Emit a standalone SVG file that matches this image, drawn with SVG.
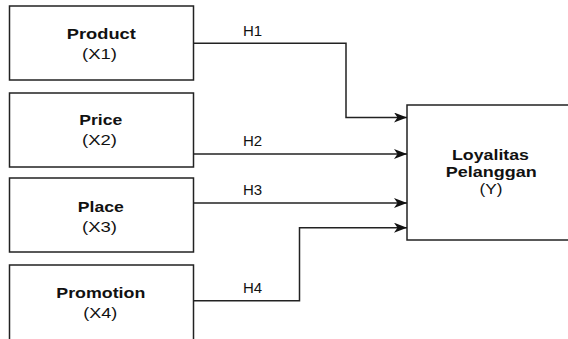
<svg xmlns="http://www.w3.org/2000/svg" width="568" height="339" viewBox="0 0 568 339">
<style>
.box{fill:#fff;stroke:#222;stroke-width:1.5}
.t{font-family:"Liberation Sans",Arial,sans-serif;font-size:15px;fill:#111;text-anchor:middle}
.b{font-weight:bold}
.h{font-family:"Liberation Sans",Arial,sans-serif;font-size:15px;fill:#111}
.c{fill:none;stroke:#222;stroke-width:1.5}
</style>
<defs>
<marker id="arr" viewBox="0 0 13 10" refX="13" refY="5" markerWidth="13" markerHeight="10" markerUnits="userSpaceOnUse" orient="auto">
<path d="M0,0 L13,5 L0,10 L3.5,5 Z" fill="#111"/>
</marker>
</defs>
<rect width="568" height="339" fill="#fff"/>
<g id="product">
<rect class="box" x="9.5" y="6" width="184" height="74"/>
<text class="t b" x="101.3" y="39" textLength="69" lengthAdjust="spacingAndGlyphs">Product</text>
<text class="t" x="99.5" y="59" textLength="35" lengthAdjust="spacingAndGlyphs">(X1)</text>
</g>
<g id="price">
<rect class="box" x="9.5" y="93" width="184" height="74"/>
<text class="t b" x="100.7" y="125" textLength="43" lengthAdjust="spacingAndGlyphs">Price</text>
<text class="t" x="99.5" y="145" textLength="35" lengthAdjust="spacingAndGlyphs">(X2)</text>
</g>
<g id="place">
<rect class="box" x="9.5" y="178" width="184" height="74"/>
<text class="t b" x="100.8" y="211.5" textLength="46" lengthAdjust="spacingAndGlyphs">Place</text>
<text class="t" x="99.5" y="231.5" textLength="35" lengthAdjust="spacingAndGlyphs">(X3)</text>
</g>
<g id="promotion">
<rect class="box" x="9.5" y="265" width="184" height="85"/>
<text class="t b" x="100.8" y="297.7" textLength="89" lengthAdjust="spacingAndGlyphs">Promotion</text>
<text class="t" x="100.3" y="318" textLength="34" lengthAdjust="spacingAndGlyphs">(X4)</text>
</g>
<g id="loyalitas">
<rect class="box" x="407" y="105" width="170" height="135"/>
<text class="t b" x="490.5" y="160" textLength="77" lengthAdjust="spacingAndGlyphs">Loyalitas</text>
<text class="t b" x="491.2" y="177" textLength="91" lengthAdjust="spacingAndGlyphs">Pelanggan</text>
<text class="t" x="491" y="194" textLength="23" lengthAdjust="spacingAndGlyphs">(Y)</text>
</g>
<g id="connectors">
<path class="c" d="M193.5,43.3 H346 V117.5 H407" marker-end="url(#arr)"/>
<path class="c" d="M193.5,154 H407" marker-end="url(#arr)"/>
<path class="c" d="M193.5,203 H407" marker-end="url(#arr)"/>
<path class="c" d="M193.5,300.7 H299.5 V227.7 H407" marker-end="url(#arr)"/>
<text class="h" x="243" y="35.7">H1</text>
<text class="h" x="243" y="145.7">H2</text>
<text class="h" x="243" y="195.2">H3</text>
<text class="h" x="243" y="292.5">H4</text>
</g>
</svg>
